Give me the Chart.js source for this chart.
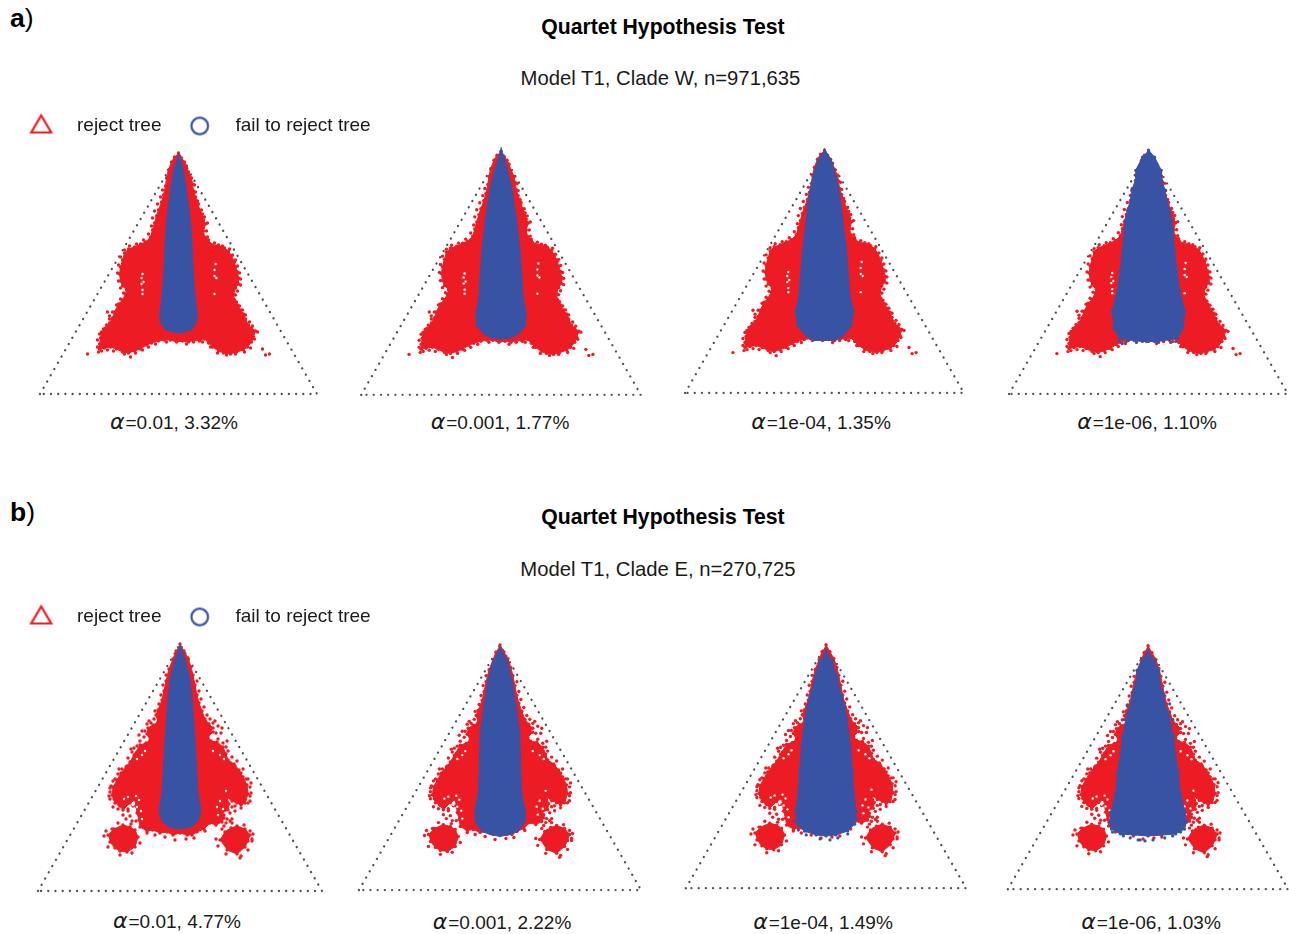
<!DOCTYPE html>
<html><head><meta charset="utf-8">
<script src="https://cdn.jsdelivr.net/npm/chart.js@4/dist/chart.umd.js"></script>
<style>
html,body{margin:0;padding:0;background:#fff;width:1289px;height:934px;overflow:hidden}
body{font-family:"Liberation Sans",Arial,sans-serif;color:#1a1a1a;position:relative}
canvas{position:absolute}
.t{position:absolute;transform:translate(-50%,-50%);white-space:nowrap}
.title{font-weight:700;font-size:21.2px;color:#000}
.sub{font-size:20.3px}
.cap{font-size:19px}
.cap i{font-family:"DejaVu Sans";font-size:22px;font-style:italic;margin-right:1px}
.tag{position:absolute;font-size:26.5px;color:#000}
.tag b{font-weight:700}
.tag span{font-weight:400}
</style></head><body>
<script>
// ---- chart text ----
const sectionTags = ["a", "b"];
const sectionTitle = "Quartet Hypothesis Test";
const sectionSubtitles = ["Model T1, Clade W, n=971,635", "Model T1, Clade E, n=270,725"];
const legendLabels = ["reject tree", "fail to reject tree"];
const alphaLevels = ["0.01", "0.001", "1e-04", "1e-06"];
const percentA = ["3.32%", "1.77%", "1.35%", "1.10%"];
const percentB = ["4.77%", "2.22%", "1.49%", "1.03%"];

// ---- simplex frames (projected coordinates) ----
const triangleA = [[-138.5,0],[0,241],[138.5,0],[-138.5,0]];
const triangleB = [[-142,0],[0,247],[142,0],[-142,0]];

// ---- Clade W: region of rejected quartets (outline, gaps, isolated points) ----
const redA = [[0,241],[3,236],[6,232],[8,228],[10,222],[13,216],[14,210],[15,203],[17,197],[20,190],[21,184],[24,180],[25,174],[27,170],[25,163],[26,157],[30,154],[34,149],[40,149],[46,146],[50,143],[53,138],[56,132],[57,127],[59,122],[60,116],[60,110],[57,106],[55,100],[56,94],[59,89],[62,84],[65,80],[67,75],[70,69],[73,66],[77,63],[75,57],[73,52],[69,47],[65,44],[58,42],[52,40],[45,41],[40,43],[34,47],[30,51],[26,55],[21,53],[16,54],[10,52],[4,53],[-2,52],[-8,54],[-14,54],[-20,53],[-27,51],[-32,49],[-38,45],[-44,43],[-50,41],[-56,42],[-62,45],[-68,47],[-74,46],[-79,45],[-79,50],[-78,56],[-77,62],[-73,66],[-69,71],[-66,76],[-64,82],[-60,90],[-56,94],[-53,100],[-52,104],[-56,108],[-58,113],[-59,120],[-58,127],[-56,134],[-54,141],[-50,145],[-44,147],[-38,150],[-33,152],[-28,157],[-26,164],[-24,171],[-22,178],[-20,184],[-17,192],[-15,199],[-13,208],[-12,216],[-10,224],[-7,232],[-4,237]];
const gapsA = [[-36,120],[-37,116],[-35,112],[-37,110],[-36,104],[-36,100],[37,130],[36,124],[36,118],[38,116],[36,100]];
const straysA = [[-91,40],[-48,37],[84,45],[87,39],[91,40],[-71,82],[-69,78],[-80,42],[-77,43],[-71,44],[-65,43],[-54,40],[-43,41],[-36,44],[-30,47],[-23,50],[-12,52],[8,50],[15,52],[24,52],[32,47],[39,41],[48,39],[57,40],[66,42],[72,46],[76,55],[79,62],[74,68],[71,72],[67,79],[64,84],[61,88],[58,92],[57,99],[59,103],[62,109],[62,115],[61,121],[59,128],[57,134],[54,139],[51,145],[44,148],[36,151],[29,157],[28,163],[29,171],[26,177],[23,184],[19,193],[17,202],[16,209],[-16,204],[-18,197],[-21,190],[-24,183],[-26,176],[-27,168],[-30,160],[-35,154],[-42,150],[-49,148],[-54,144],[-58,137],[-60,129],[-61,121],[-60,113],[-58,106],[-55,101],[-58,95],[-62,89],[-66,82],[-69,75],[-72,69],[-75,65],[-79,60],[-81,54],[-81,47]];

// ---- Clade W: region of quartets not rejected, half-width by height ----
const blueA1 = [[0,241],[4.3,227],[7.7,207],[11,181],[13,161],[14.5,127],[16,104],[17.5,89],[19,79],[17.6,71],[12.7,64],[6,62],[0,61]];
const blueA2 = [[0,245],[5.7,225],[10.7,205],[15.7,172],[19,142],[21,112],[22,95],[25,80],[24,68],[17,60],[9,56],[0,55]];
const blueA3 = [[0,242],[6.7,231],[11.7,214],[15.7,194],[18.3,171],[21.7,144],[24,114],[25.7,94],[29,81],[26.7,66],[18,56],[10,52],[0,52]];
const blueA4 = [[0,242],[6,235],[12.7,222],[13,212],[16.7,202],[18,192],[21,182],[23,172],[24,162],[26,142],[28.3,122],[31,102],[36,82],[34.3,65],[29,55],[20,54],[14.3,53],[6,52],[0,52]];
const blueStraysA4 = [[-29,52],[-26,50],[-22,52],[27,52],[22,51],[-12,51],[10,51]];

// ---- Clade E: region of rejected quartets ----
const redB = [[0,247],[4,240],[8,233],[11,224],[13,216],[15,206],[17,196],[19,188],[22,180],[25,172],[29,167],[33,163],[30,159],[33,159],[28,154],[31,150],[37,149],[43,144],[46,137],[48,131],[54,127],[59,121],[63,114],[67,106],[68,97],[65,88],[61,86],[57,88],[52,90],[47,94],[49,87],[48,81],[42,78],[44,73],[42,69],[36,66],[30,68],[24,62],[17,59],[12,56],[7,56],[0,58],[-7,56],[-13,59],[-20,58],[-27,61],[-33,60],[-40,64],[-41,71],[-43,78],[-44,85],[-45,91],[-50,88],[-57,81],[-61,86],[-65,88],[-68,96],[-67,104],[-63,111],[-59,118],[-54,124],[-50,129],[-46,136],[-40,146],[-34,148],[-30,151],[-33,157],[-32,163],[-27,166],[-22,169],[-24,176],[-22,181],[-18,191],[-16,200],[-14,210],[-11,222],[-7,232],[-4,240]];
const lobeLeftB = [[-72,56],[-66,62],[-57,66],[-50,64],[-45,61],[-42,54],[-45,44],[-53,39],[-60,40],[-65,43],[-70,49]];
const lobeRightB = [[40,51],[45,59],[51,63],[57,65],[65,62],[70,56],[68,50],[65,44],[57,37],[47,41]];
const straysB = [[-46,143],[-44,138],[-40,150],[-37,144],[-36,154],[-35,160],[-33,167],[-29,168],[-28,161],[-53,125],[-58,122],[-62,117],[-65,112],[-69,105],[-70,99],[-70,92],[-67,84],[-62,82],[-60,85],[-57,76],[-54,72],[-52,80],[-50,75],[-48,70],[-47,85],[-44,70],[38,152],[43,148],[46,144],[41,158],[38,165],[33,168],[30,160],[50,128],[55,125],[61,118],[66,112],[70,104],[70,95],[68,88],[61,83],[55,85],[50,78],[52,72],[47,72],[44,65],[50,70],[43,88],[55,80],[48,60],[42,62],[72,50],[73,57],[61,35],[68,41],[-74,60],[-76,55],[-72,44],[-60,36],[-48,38],[-40,48],[-68,62],[-62,68],[36,52],[38,45],[46,37],[60,33],[72,52],[70,60],[64,66],[52,68],[-25,56],[-15,54],[-5,51],[6,52],[14,53],[25,60],[-33,58],[-52,82],[-49,67],[-46,58],[44,76],[46,68],[52,84],[-52,133],[-48,139],[-43,145],[-49,142],[-41,156],[-38,160],[-31,170],[-26,172],[-25,180],[-21,187],[-19,196],[-17,206],[-14,216],[17,210],[19,200],[21,192],[24,184],[27,176],[30,172],[35,170],[42,163],[36,158],[48,140],[52,134],[57,130],[47,150],[63,122],[68,112],[71,108],[71,98],[70,90],[65,91],[58,92],[50,94],[-71,95],[-70,103],[-67,110],[-61,122],[-66,92],[-60,90],[-53,90],[-47,95]];
const gapsB = [[-47,86],[-44,95],[-41,91],[-43,84],[-38,72],[-56,92],[-52,94],[40,90],[43,82],[38,76],[46,100],[-35,140],[33,140],[-43,132],[-38,136],[44,132],[40,136],[-45,76],[-39,80],[37,84]];

// ---- Clade E: region of quartets not rejected, half-width by height ----
const blueB1 = [[0,247],[5,232],[10,212],[12.7,185],[15,152],[16.7,122],[18,98],[21,80],[18,70],[11.7,64],[0,62]];
const blueB2 = [[0,245],[6.7,232],[12.3,212],[15.7,189],[20,159],[20.7,126],[21.7,99],[25,82],[25,69],[18,59],[10,56],[0,54]];
const blueB3 = [[0,242],[6.3,230],[11.3,215],[13,205],[16.3,195],[19,184],[21.3,172],[23,158],[24.7,145],[27,118],[28,98],[30.7,78],[29,65],[22,58],[10,54],[0,53]];
const blueB4 = [[0,242],[6,233],[11,222],[12,210],[16,198],[17,188],[21,178],[23,166],[26,155],[27.7,138],[31,118],[32.7,98],[37.7,78],[39,68],[37,61],[28,56],[14,55],[0,54]];
const blueStraysB3 = [[-28,59],[-20,54],[-6,50],[4,49],[12,51],[22,55],[-32,68],[32,70]];
const blueStraysB4 = [[-36,58],[-25,54],[-18,52],[-8,50],[-3,49],[5,50],[17,52],[25,54],[33,58],[-21,186],[22,188],[-24,172],[25,172],[-10,50]];

// ---- layout of the eight panels ----
const RED = "#ed1c24", BLUE = "#3953a4", DOT = "#4d4d4d";
const layoutA = [{cx:178,by:394,hw:138.5},{cx:500.5,by:395,hw:140},{cx:824,by:393,hw:139.5},{cx:1148,by:394,hw:139.5}];
const layoutB = [{cx:180,by:891,hw:142},{cx:499.5,by:890,hw:141},{cx:826,by:888,hw:140},{cx:1148,by:889,hw:140}];

Chart.defaults.animation = false;
Chart.defaults.font.family = '"Liberation Sans", Arial, sans-serif';

const pts = a => a.map(p => ({x:p[0], y:p[1]}));
const mirror = prof => pts(prof.concat(prof.slice(1,-1).reverse().map(p => [-p[0],p[1]])));

function polygon(data, color, radius, order){
  return {type:"scatter", data, showLine:true, fill:"shape", borderColor:color, backgroundColor:color, borderWidth:1, pointRadius:radius, pointBackgroundColor:color, pointBorderWidth:0, order, tension:0};
}
function dots(arr, color, radius, order){
  return {type:"scatter", data:pts(arr), showLine:false, pointRadius:radius, pointBackgroundColor:color, pointBorderWidth:0, order};
}
function panel(sec, i, spec){
  const L = spec.layout[i], s = L.hw / spec.half, xm = spec.half + 12, ytop = spec.top + 12;
  const c = document.createElement("canvas");
  const w = Math.round(2*xm*s), h = Math.round((ytop+12)*s);
  c.width = w; c.height = h;
  c.style.width = w+"px"; c.style.height = h+"px";
  c.style.left = (L.cx - w/2)+"px"; c.style.top = (L.by - ytop*s)+"px";
  document.body.appendChild(c);
  const ds = [];
  ds.push(dots(spec.blueStrays[i], BLUE, 1.6, 0));
  ds.push(polygon(mirror(spec.blue[i]), BLUE, spec.blueR[i], 1));
  ds.push(dots(spec.gaps, "#fff", 1.2, 2));
  ds.push(dots(spec.strays, RED, 1.7, 3));
  spec.red.forEach((r,k) => ds.push(polygon(pts(r), RED, 1.7, 4+k)));
  ds.push({type:"scatter", data:pts(spec.tri), showLine:true, borderColor:DOT, borderWidth:2.3, borderDash:[0.01,7.2], borderCapStyle:"round", pointRadius:0, order:9});
  new Chart(c, {type:"scatter", data:{datasets:ds}, options:{
    responsive:false, layout:{padding:0, autoPadding:false},
    plugins:{legend:{display:false}, tooltip:{enabled:false}, filler:{drawTime:"beforeDatasetDraw"}},
    scales:{x:{type:"linear",display:false,min:-xm,max:xm}, y:{type:"linear",display:false,min:-12,max:ytop}}
  }});
}
function marker(kind){
  const c = document.createElement("canvas"); c.width = 26; c.height = 26;
  const g = c.getContext("2d"); g.lineWidth = 2.2; g.lineJoin = "miter";
  if(kind === "tri"){ g.strokeStyle = "#ed1c24"; g.beginPath(); g.moveTo(13,3); g.lineTo(23,20); g.lineTo(3,20); g.closePath(); g.stroke(); }
  else { g.strokeStyle = BLUE; g.beginPath(); g.arc(13,13.5,8.3,0,Math.PI*2); g.stroke(); }
  return c;
}
function legendChart(top){
  const c = document.createElement("canvas");
  c.width = 400; c.height = 90; c.style.left = "3px"; c.style.top = top+"px"; c.style.width="400px"; c.style.height="90px";
  document.body.appendChild(c);
  const styles = [marker("tri"), marker("circ")];
  new Chart(c, {type:"scatter",
    data:{datasets:[{label:legendLabels[0],data:[]},{label:legendLabels[1],data:[]}]},
    options:{responsive:false, scales:{x:{display:false},y:{display:false}},
      plugins:{tooltip:{enabled:false}, legend:{display:true,position:"top",align:"start",
        labels:{usePointStyle:true,pointStyleWidth:52.5,boxHeight:19,padding:12,color:"#1a1a1a",font:{size:19},
          generateLabels:()=>legendLabels.map((t,i)=>({text:t,pointStyle:styles[i],fillStyle:"#fff",strokeStyle:"#fff",fontColor:"#1a1a1a",lineWidth:0,hidden:false,datasetIndex:i}))}}}}});
}
function text(cls, x, y, html){
  const d = document.createElement("div"); d.className = "t "+cls; d.style.left = x+"px"; d.style.top = y+"px"; d.innerHTML = html;
  document.body.appendChild(d);
}
function tag(name, y){
  const d = document.createElement("div"); d.className="tag"; d.style.left="10px"; d.style.top=y+"px";
  d.innerHTML = "<b>"+name+"</b><span>)</span>"; document.body.appendChild(d);
}

const specA = {layout:layoutA, half:138.5, top:241, tri:triangleA, red:[redA], gaps:gapsA, strays:straysA,
  blue:[blueA1,blueA2,blueA3,blueA4], blueR:[0,0,0.8,1.6], blueStrays:[[],[],[],blueStraysA4]};
const specB = {layout:layoutB, half:142, top:247, tri:triangleB, red:[redB,lobeLeftB,lobeRightB], gaps:gapsB, strays:straysB,
  blue:[blueB1,blueB2,blueB3,blueB4], blueR:[0,0.8,1.6,1.6], blueStrays:[[],[],blueStraysB3,blueStraysB4]};

[0,1,2,3].forEach(i => { panel("a", i, specA); panel("b", i, specB); });
legendChart(104); legendChart(595);

tag(sectionTags[0], 3); tag(sectionTags[1], 497);
text("title", 663, 26.5, sectionTitle);
text("title", 663, 517, sectionTitle);
text("sub", 660.5, 78, sectionSubtitles[0]);
text("sub", 658, 568.5, sectionSubtitles[1]);
const capXA = [174,500,821,1147], capXB = [177,502,823,1151], capYB = [920,921,921,921];
alphaLevels.forEach((a,i) => {
  text("cap", capXA[i], 421, "<i>α</i>="+a+", "+percentA[i]);
  text("cap", capXB[i], capYB[i], "<i>α</i>="+a+", "+percentB[i]);
});
</script>
</body></html>
